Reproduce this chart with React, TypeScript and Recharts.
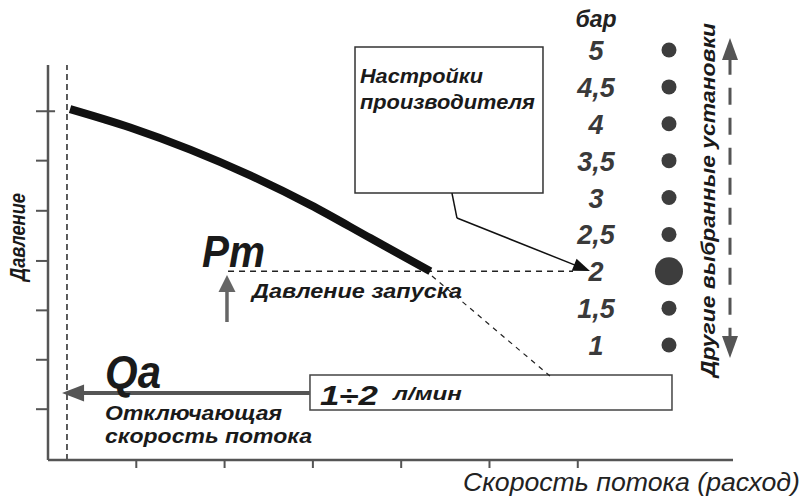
import React from 'react';
import { LineChart, Line, XAxis, YAxis, ReferenceLine, ReferenceDot, ReferenceArea } from 'recharts';

// Pump curve: flow (axis units) vs pressure (bar)
const flow = [0.25, 0.93, 1.61, 2.29, 2.97, 3.65, 4.33];
const pressure = [4.2, 3.95, 3.65, 3.3, 2.9, 2.45, 2.0];
const curve = flow.map((q, i) => ({ q, p: pressure[i] }));

// Right-hand setting scale
const barValues = [5, 4.5, 4, 3.5, 3, 2.5, 2, 1.5, 1];
const barLabels = ['5', '4,5', '4', '3,5', '3', '2,5', '2', '1,5', '1'];
const selectedBar = 2;

// Axis ticks (unlabelled marks)
const xTicks = [1, 2, 3, 4, 5, 6];
const yTicks = [0.13, 0.8, 1.47, 2.14, 2.82, 3.5, 4.17];

const Y_MIN = -0.559;
const Y_MAX = 4.797;

const FONT = '"Liberation Sans", Arial, sans-serif';
const NARROW = '"Liberation Sans Narrow", "Liberation Sans", Arial, sans-serif';

type ArrowOpt = { color: string; width: number; head: number; half: number; dash?: string; both?: boolean; noHead?: boolean };

function arrow(o: ArrowOpt) {
  return (props: any) => {
    const { x1, y1, x2, y2 } = props;
    const dx = x2 - x1, dy = y2 - y1;
    const len = Math.hypot(dx, dy) || 1;
    const ux = dx / len, uy = dy / len;
    const nx = -uy, ny = ux;
    const head = (tx: number, ty: number, dx2: number, dy2: number) => {
      const bx = tx - dx2 * o.head, by = ty - dy2 * o.head;
      return `${tx},${ty} ${bx + nx * o.half},${by + ny * o.half} ${bx - nx * o.half},${by - ny * o.half}`;
    };
    const sx = o.both ? x1 + ux * o.head * 0.9 : x1;
    const sy = o.both ? y1 + uy * o.head * 0.9 : y1;
    const ex = o.noHead ? x2 : x2 - ux * o.head * 0.9;
    const ey = o.noHead ? y2 : y2 - uy * o.head * 0.9;
    return (
      <g>
        <line x1={sx} y1={sy} x2={ex} y2={ey} stroke={o.color} strokeWidth={o.width} strokeDasharray={o.dash} />
        {!o.noHead && <polygon points={head(x2, y2, ux, uy)} fill={o.color} />}
        {o.both && <polygon points={head(x1, y1, -ux, -uy)} fill={o.color} />}
      </g>
    );
  };
}

type LblOpt = { size: number; weight?: string; italic?: boolean; anchor?: string; color?: string; len?: number; rotate?: boolean; family?: string; dy?: number };

function label(text: string, o: LblOpt) {
  return (p: any) => {
    const { cx, cy } = p;
    return (
      <text
        x={cx}
        y={cy}
        dy={o.dy || 0}
        fontFamily={o.family || FONT}
        fontSize={o.size}
        fontWeight={o.weight || 'bold'}
        fontStyle={o.italic === false ? 'normal' : 'italic'}
        textAnchor={o.anchor || 'start'}
        fill={o.color || '#1a1a1a'}
        textLength={o.len}
        lengthAdjust={o.len ? 'spacingAndGlyphs' : undefined}
        transform={o.rotate ? `rotate(-90 ${cx} ${cy})` : undefined}
      >
        {text}
      </text>
    );
  };
}

const dotShape = (r: number) => (p: any) => <circle cx={p.cx} cy={p.cy} r={r} fill="#3d3d3d" />;
const tickShape = (p: any) => <line x1={p.cx} x2={p.cx} y1={p.cy} y2={p.cy + 8} stroke="#555" strokeWidth={2} />;
const noTick = () => <g />;

export default function App() {
  return (
    <div style={{ position: 'absolute', left: 0, top: 0, background: '#fff' }}>
      <LineChart width={806} height={503} data={curve} margin={{ top: 65, right: 73, bottom: 0, left: 0 }}>
        <XAxis
          dataKey="q"
          type="number"
          domain={[0, 7.758]}
          allowDataOverflow
          ticks={xTicks}
          interval={0}
          tick={noTick}
          tickLine={false}
          height={43}
          axisLine={{ stroke: '#555', strokeWidth: 2.5 }}
        />
        <YAxis
          yAxisId="bar"
          type="number"
          domain={[Y_MIN, Y_MAX]}
          allowDataOverflow
          ticks={yTicks}
          interval={0}
          tick={noTick}
          tickSize={12}
          width={48}
          axisLine={{ stroke: '#555', strokeWidth: 2.5 }}
          tickLine={{ stroke: '#555', strokeWidth: 2 }}
        />

        {/* cut-off flow dashed vertical */}
        <ReferenceLine yAxisId="bar" x={0.215} stroke="#333" strokeWidth={1.6} strokeDasharray="6 4" ifOverflow="visible" />
        {/* small tick mark crossing the axis at the top pressure tick */}
        <ReferenceLine
          yAxisId="bar"
          segment={[{ x: 0, y: 4.17 }, { x: 0.08, y: 4.17 }]}
          stroke="#555"
          strokeWidth={2}
          ifOverflow="visible"
        />

        {/* start pressure dashed horizontal */}
        <ReferenceLine
          yAxisId="bar"
          segment={[{ x: 2.039, y: selectedBar }, { x: 5.946, y: selectedBar }]}
          stroke="#222"
          strokeWidth={1.6}
          strokeDasharray="6 5"
          ifOverflow="visible"
        />

        {/* thin dashed connector to flow box */}
        <ReferenceLine
          yAxisId="bar"
          segment={[{ x: 4.349, y: 1.936 }, { x: 5.685, y: 0.58 }]}
          stroke="#222"
          strokeWidth={1.2}
          strokeDasharray="5 5"
          ifOverflow="visible"
        />

        {/* manufacturer settings box */}
        <ReferenceArea yAxisId="bar" x1={3.477} x2={5.606} y1={3.061} y2={5.041} fill="#fff" fillOpacity={1} stroke="#333" strokeWidth={1.5} ifOverflow="visible" />
        <ReferenceDot yAxisId="bar" x={3.533} y={4.553} ifOverflow="visible" shape={label('Настройки', { size: 21, len: 123, family: NARROW })} />
        <ReferenceDot yAxisId="bar" x={3.533} y={4.2} ifOverflow="visible" shape={label('производителя', { size: 21, len: 175, family: NARROW })} />

        {/* callout pointer */}
        <ReferenceLine
          yAxisId="bar"
          segment={[{ x: 4.575, y: 3.061 }, { x: 4.632, y: 2.722 }]}
          ifOverflow="visible"
          shape={arrow({ color: '#111', width: 1.5, head: 0, half: 0, noHead: true })}
        />
        <ReferenceLine
          yAxisId="bar"
          segment={[{ x: 4.632, y: 2.722 }, { x: 6.138, y: 2.003 }]}
          ifOverflow="visible"
          shape={arrow({ color: '#111', width: 1.5, head: 17, half: 6.5 })}
        />

        {/* flow box */}
        <ReferenceArea yAxisId="bar" x1={2.967} x2={7.067} y1={0.119} y2={0.593} fill="#fff" fillOpacity={1} stroke="#444" strokeWidth={1.5} ifOverflow="visible" />
        <ReferenceDot yAxisId="bar" x={3.08} y={0.186} ifOverflow="visible" shape={label('1÷2', { size: 28, len: 58, family: NARROW })} />
        <ReferenceDot yAxisId="bar" x={3.907} y={0.254} ifOverflow="visible" shape={label('л/мин', { size: 19, len: 69, family: NARROW })} />

        {/* Qa arrow */}
        <ReferenceLine
          yAxisId="bar"
          segment={[{ x: 2.967, y: 0.349 }, { x: 0.159, y: 0.349 }]}
          ifOverflow="visible"
          shape={arrow({ color: '#555', width: 4, head: 22, half: 8.5 })}
        />

        {/* Pm arrow */}
        <ReferenceLine
          yAxisId="bar"
          segment={[{ x: 2.027, y: 1.312 }, { x: 2.027, y: 1.949 }]}
          ifOverflow="visible"
          shape={arrow({ color: '#666', width: 3.5, head: 17, half: 8.5 })}
        />

        {/* pump curve */}
        <Line yAxisId="bar" dataKey="p" type="monotone" stroke="#111" strokeWidth={8} dot={false} isAnimationActive={false} />

        {/* texts */}
        <ReferenceDot yAxisId="bar" x={1.744} y={2.058} ifOverflow="visible" shape={label('Pm', { size: 44, len: 63, family: NARROW })} />
        <ReferenceDot yAxisId="bar" x={2.31} y={1.637} ifOverflow="visible" shape={label('Давление запуска', { size: 20, len: 210, family: NARROW })} />
        <ReferenceDot yAxisId="bar" x={0.646} y={0.417} ifOverflow="visible" shape={label('Qa', { size: 46, len: 56, family: NARROW })} />
        <ReferenceDot yAxisId="bar" x={0.646} y={-0.017} ifOverflow="visible" shape={label('Отключающая', { size: 21, len: 177, family: NARROW })} />
        <ReferenceDot yAxisId="bar" x={0.646} y={-0.329} ifOverflow="visible" shape={label('скорость потока', { size: 21, len: 207, family: NARROW })} />
        <ReferenceDot yAxisId="bar" x={-0.26} y={2.464} ifOverflow="visible" shape={label('Давление', { size: 22, len: 88, anchor: 'middle', rotate: true, family: NARROW })} />
        <ReferenceDot yAxisId="bar" x={4.7} y={-0.98} ifOverflow="visible" shape={label('Скорость потока (расход)', { size: 26, len: 337, weight: 'normal', color: '#222' })} />

        {/* bar scale */}
        <ReferenceDot yAxisId="bar" x={6.206} y={5.5} ifOverflow="visible" shape={label('бар', { size: 23, anchor: 'middle', dy: 14, color: '#222' })} />
        {barValues.map((v, i) => (
          <ReferenceDot
            key={'l' + i}
            yAxisId="bar"
            x={6.206}
            y={v}
            ifOverflow="visible"
            shape={label(barLabels[i], { size: 27, anchor: 'middle', dy: 10, color: '#3a3a3a' })}
          />
        ))}
        {barValues.map((v, i) => (
          <ReferenceDot key={'d' + i} yAxisId="bar" x={7.033} y={v} ifOverflow="visible" shape={dotShape(v === selectedBar ? 14 : 7.5)} />
        ))}

        {/* other settings double arrow */}
        <ReferenceLine
          yAxisId="bar"
          segment={[{ x: 7.724, y: 5.163 }, { x: 7.724, y: 0.824 }]}
          ifOverflow="visible"
          shape={arrow({ color: '#555', width: 3, head: 22, half: 8, dash: '17 13', both: true })}
        />
        <ReferenceDot yAxisId="bar" x={7.554} y={2.966} ifOverflow="visible" shape={label('Другие выбранные установки', { size: 21, len: 354, anchor: 'middle', rotate: true, family: NARROW })} />

        {/* flow-axis tick marks below the axis, drawn last */}
        {xTicks.map((v) => (
          <ReferenceDot key={'xt' + v} yAxisId="bar" x={v} y={Y_MIN} ifOverflow="visible" shape={tickShape} />
        ))}
      </LineChart>
    </div>
  );
}
